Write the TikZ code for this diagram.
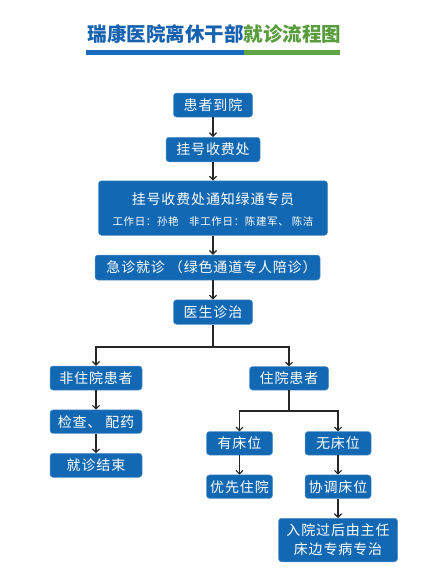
\documentclass[tikz,border=0pt]{standalone}
\usepackage{fontspec}
\newfontfamily\cjk{Noto Sans CJK SC}
\newfontfamily\cjksp{Noto Sans CJK SC}[LetterSpace=6]
\usetikzlibrary{arrows.meta}
\definecolor{boxblue}{RGB}{18,104,178}
\definecolor{edgeblue}{RGB}{90,150,205}
\definecolor{tblue}{RGB}{22,98,176}
\definecolor{tgreen}{RGB}{88,156,60}
\definecolor{barblue}{RGB}{26,106,190}
\definecolor{bargreen}{RGB}{96,164,72}
\tikzset{
  box/.style={fill=boxblue, draw=edgeblue, line width=0.5pt, rounded corners=3pt,
    text=white, inner sep=0pt, font=\cjksp\fontsize{14}{19}\selectfont, align=center},
  arr/.style={draw=black!85, line width=1.1pt, -{Straight Barb[length=3.5pt,width=7pt]}},
  ln/.style={draw=black!85, line width=1.1pt},
}
\begin{document}
\begin{tikzpicture}[x=1pt,y=-1pt]
\useasboundingbox (0,0) rectangle (432,587);
\fill[white] (0,0) rectangle (432,587);
% title
\node[font=\cjk\bfseries\fontsize{19.5}{22}\selectfont, inner sep=0pt] (title) at (214.5,34)
  {{\color{tblue}瑞康医院离休干部}{\color{tgreen}就诊流程图}};
\fill[barblue] (86,50.3) rectangle (243.5,54.5);
\fill[bargreen] (243.5,50.3) rectangle (340,54.5);
% nodes
\node[box, minimum width=79, minimum height=24] (a) at (213,105) {患者到院};
\node[box, minimum width=94, minimum height=24.5] (b) at (213,149.5) {挂号收费处};
\node[box, minimum width=229, minimum height=54.5] (c) at (213,208) {};
\node[text=white, inner sep=0pt, font=\cjksp\fontsize{14}{16}\selectfont] (c1) at (213,199.3) {挂号收费处通知绿通专员};
\node[text=white, inner sep=0pt, font=\cjksp\fontsize{10.5}{12}\selectfont] (c2) at (213,221.7) {工作日：孙艳\quad 非工作日：陈建军、 陈洁};
\node[box, minimum width=225, minimum height=25] (d) at (207.5,267.5) {\hspace*{8pt}急诊就诊 （绿色通道专人陪诊）};
\node[box, minimum width=79, minimum height=24.5] (e) at (213,312) {医生诊治};
\node[box, minimum width=92, minimum height=24] (f) at (96,378) {非住院患者};
\node[box, minimum width=92, minimum height=23.5] (g) at (96,421.7) {检查、 配药};
\node[box, minimum width=92, minimum height=24] (h) at (96,465.3) {就诊结束};
\node[box, minimum width=79, minimum height=23.5] (i) at (289,378.3) {住院患者};
\node[box, minimum width=66, minimum height=23.5] (j) at (239.5,443.3) {有床位};
\node[box, minimum width=66, minimum height=23.5] (k) at (338,443.3) {无床位};
\node[box, minimum width=66, minimum height=23.5] (l) at (239.5,486.7) {优先住院};
\node[box, minimum width=66, minimum height=23.5] (m) at (338,486.7) {协调床位};
\node[box, minimum width=119, minimum height=43.5] (n) at (338,540) {入院过后由主任\\床边专病专治};
% connectors
\draw[arr] (a.south) -- (b.north);
\draw[arr] (b.south) -- (c.north);
\draw[arr] (c.south) -- (c.south |- d.north);
\draw[arr] (e.north |- d.south) -- (e.north);
\coordinate (sp) at (213,347);
\draw[ln] (e.south) -- (sp);
\draw[arr] (sp) -| (f.north);
\draw[arr] (sp) -| (i.north);
\draw[arr] (f.south) -- (g.north);
\draw[arr] (g.south) -- (h.north);
\coordinate (sp2) at (289,411);
\draw[ln] (i.south) -- (sp2);
\draw[arr] (sp2) -| (j.north);
\draw[arr] (sp2) -| (k.north);
\draw[arr] (j.south) -- (l.north);
\draw[arr] (k.south) -- (m.north);
\draw[arr] (m.south) -- (n.north);
\end{tikzpicture}
\end{document}
